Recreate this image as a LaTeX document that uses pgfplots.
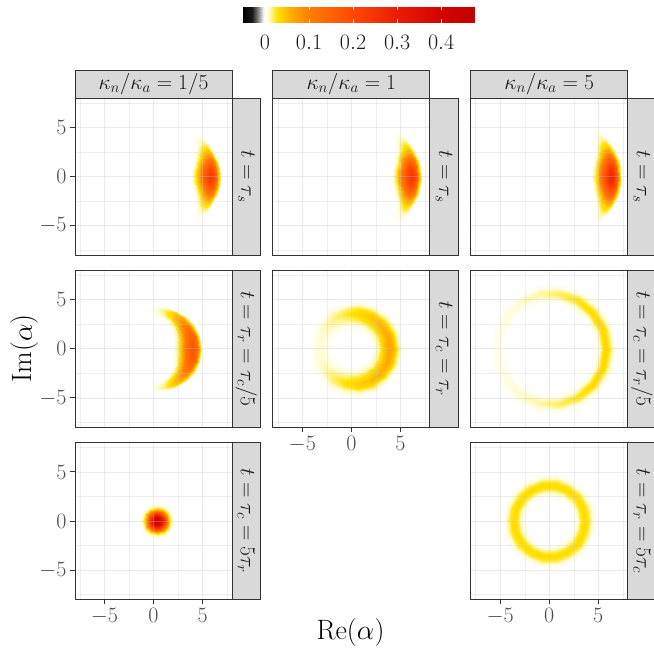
\documentclass[border=0pt]{standalone}
\usepackage{fix-cm}
\usepackage{pgfplots}
\usepackage{pgfplotstable}
\pgfplotsset{compat=1.18}

% Quasi-probability colour scale: black (negative) -> white (0) -> yellow -> orange -> dark red
\pgfplotsset{
  colormap={wigner}{rgb255(0pt)=(0,0,0); rgb255(207pt)=(25,25,25); rgb255(357pt)=(130,130,130);
    rgb255(467pt)=(235,235,235); rgb255(507pt)=(255,255,255); rgb255(567pt)=(255,252,215);
    rgb255(657pt)=(255,242,120); rgb255(777pt)=(255,226,0); rgb255(1107pt)=(255,172,0);
    rgb255(1507pt)=(255,125,0); rgb255(2507pt)=(255,72,0); rgb255(3507pt)=(235,28,0);
    rgb255(4507pt)=(212,2,0); rgb255(5277pt)=(195,0,0)},
}

% Phase-space densities on polar meshes: angle a (deg), radius r, value w
% kappa_n/kappa_a = 1/5, t = tau_s
\pgfplotstableread[row sep=\\]{a r w\\
-49 5.40 0\\-49 5.50 0\\-49 5.60 0\\-49 5.85 0\\-49 6.08 0\\-49 6.20 0\\-49 6.30 0\\-49 6.40 0\\-49 6.50 0\\
-42 5.22 0.0001\\-42 5.37 0.0002\\-42 5.53 0.0007\\-42 5.78 0.0018\\-42 6.05 0.0026\\-42 6.19 0.0024\\-42 6.32 0.0017\\-42 6.43 0.0006\\-42 6.55 0\\
-35 4.96 0.0002\\-35 5.16 0.0010\\-35 5.36 0.0029\\-35 5.66 0.0074\\-35 6.00 0.0106\\-35 6.17 0.0099\\-35 6.34 0.0069\\-35 6.48 0.0023\\-35 6.62 0.0001\\
-28 4.67 0.0006\\-28 4.91 0.0029\\-28 5.15 0.0087\\-28 5.52 0.0227\\-28 5.93 0.0324\\-28 6.13 0.0301\\-28 6.34 0.0211\\-28 6.51 0.0071\\-28 6.68 0.0003\\
-21 4.38 0.0016\\-21 4.66 0.0071\\-21 4.94 0.0214\\-21 5.38 0.0554\\-21 5.86 0.0792\\-21 6.10 0.0737\\-21 6.34 0.0515\\-21 6.54 0.0174\\-21 6.74 0.0008\\
-14 4.13 0.0029\\-14 4.45 0.0132\\-14 4.76 0.0395\\-14 5.26 0.1025\\-14 5.80 0.1464\\-14 6.07 0.1362\\-14 6.34 0.0952\\-14 6.57 0.0322\\-14 6.79 0.0015\\
-7 3.97 0.0042\\-7 4.30 0.0190\\-7 4.64 0.0570\\-7 5.18 0.1478\\-7 5.76 0.2112\\-7 6.05 0.1964\\-7 6.34 0.1373\\-7 6.58 0.0465\\-7 6.83 0.0021\\
0 3.90 0.0048\\0 4.25 0.0216\\0 4.60 0.0648\\0 5.15 0.1680\\0 5.75 0.2400\\0 6.05 0.2232\\0 6.35 0.1560\\0 6.60 0.0528\\0 6.85 0.0024\\
7 3.97 0.0042\\7 4.30 0.0190\\7 4.64 0.0570\\7 5.18 0.1478\\7 5.76 0.2112\\7 6.05 0.1964\\7 6.34 0.1373\\7 6.58 0.0465\\7 6.83 0.0021\\
14 4.13 0.0029\\14 4.45 0.0132\\14 4.76 0.0395\\14 5.26 0.1025\\14 5.80 0.1464\\14 6.07 0.1362\\14 6.34 0.0952\\14 6.57 0.0322\\14 6.79 0.0015\\
21 4.38 0.0016\\21 4.66 0.0071\\21 4.94 0.0214\\21 5.38 0.0554\\21 5.86 0.0792\\21 6.10 0.0737\\21 6.34 0.0515\\21 6.54 0.0174\\21 6.74 0.0008\\
28 4.67 0.0006\\28 4.91 0.0029\\28 5.15 0.0087\\28 5.52 0.0227\\28 5.93 0.0324\\28 6.13 0.0301\\28 6.34 0.0211\\28 6.51 0.0071\\28 6.68 0.0003\\
35 4.96 0.0002\\35 5.16 0.0010\\35 5.36 0.0029\\35 5.66 0.0074\\35 6.00 0.0106\\35 6.17 0.0099\\35 6.34 0.0069\\35 6.48 0.0023\\35 6.62 0.0001\\
42 5.22 0.0001\\42 5.37 0.0002\\42 5.53 0.0007\\42 5.78 0.0018\\42 6.05 0.0026\\42 6.19 0.0024\\42 6.32 0.0017\\42 6.43 0.0006\\42 6.55 0\\
49 5.40 0\\49 5.50 0\\49 5.60 0\\49 5.85 0\\49 6.08 0\\49 6.20 0\\49 6.30 0\\49 6.40 0\\49 6.50 0\\
}\tA

% kappa_n/kappa_a = 1, t = tau_s
\pgfplotstableread[row sep=\\]{a r w\\
-49 5.70 0\\-49 5.80 0\\-49 5.90 0\\-49 6.15 0\\-49 6.38 0\\-49 6.50 0\\-49 6.60 0\\-49 6.70 0\\-49 6.80 0\\
-42 5.52 0.0001\\-42 5.67 0.0003\\-42 5.83 0.0008\\-42 6.08 0.0020\\-42 6.35 0.0028\\-42 6.49 0.0026\\-42 6.62 0.0018\\-42 6.73 0.0006\\-42 6.85 0\\
-35 5.26 0.0002\\-35 5.46 0.0010\\-35 5.66 0.0030\\-35 5.96 0.0077\\-35 6.30 0.0110\\-35 6.47 0.0102\\-35 6.64 0.0072\\-35 6.78 0.0024\\-35 6.92 0.0001\\
-28 4.97 0.0007\\-28 5.21 0.0030\\-28 5.45 0.0091\\-28 5.82 0.0237\\-28 6.23 0.0338\\-28 6.43 0.0314\\-28 6.64 0.0220\\-28 6.81 0.0074\\-28 6.98 0.0003\\
-21 4.68 0.0017\\-21 4.96 0.0074\\-21 5.24 0.0223\\-21 5.68 0.0578\\-21 6.16 0.0825\\-21 6.40 0.0767\\-21 6.64 0.0536\\-21 6.84 0.0182\\-21 7.04 0.0008\\
-14 4.43 0.0031\\-14 4.75 0.0137\\-14 5.06 0.0412\\-14 5.56 0.1068\\-14 6.10 0.1525\\-14 6.37 0.1418\\-14 6.64 0.0991\\-14 6.87 0.0336\\-14 7.09 0.0015\\
-7 4.27 0.0044\\-7 4.60 0.0198\\-7 4.94 0.0594\\-7 5.48 0.1540\\-7 6.06 0.2200\\-7 6.35 0.2046\\-7 6.64 0.1430\\-7 6.88 0.0484\\-7 7.13 0.0022\\
0 4.20 0.0050\\0 4.55 0.0225\\0 4.90 0.0675\\0 5.45 0.1750\\0 6.05 0.2500\\0 6.35 0.2325\\0 6.65 0.1625\\0 6.90 0.0550\\0 7.15 0.0025\\
7 4.27 0.0044\\7 4.60 0.0198\\7 4.94 0.0594\\7 5.48 0.1540\\7 6.06 0.2200\\7 6.35 0.2046\\7 6.64 0.1430\\7 6.88 0.0484\\7 7.13 0.0022\\
14 4.43 0.0031\\14 4.75 0.0137\\14 5.06 0.0412\\14 5.56 0.1068\\14 6.10 0.1525\\14 6.37 0.1418\\14 6.64 0.0991\\14 6.87 0.0336\\14 7.09 0.0015\\
21 4.68 0.0017\\21 4.96 0.0074\\21 5.24 0.0223\\21 5.68 0.0578\\21 6.16 0.0825\\21 6.40 0.0767\\21 6.64 0.0536\\21 6.84 0.0182\\21 7.04 0.0008\\
28 4.97 0.0007\\28 5.21 0.0030\\28 5.45 0.0091\\28 5.82 0.0237\\28 6.23 0.0338\\28 6.43 0.0314\\28 6.64 0.0220\\28 6.81 0.0074\\28 6.98 0.0003\\
35 5.26 0.0002\\35 5.46 0.0010\\35 5.66 0.0030\\35 5.96 0.0077\\35 6.30 0.0110\\35 6.47 0.0102\\35 6.64 0.0072\\35 6.78 0.0024\\35 6.92 0.0001\\
42 5.52 0.0001\\42 5.67 0.0003\\42 5.83 0.0008\\42 6.08 0.0020\\42 6.35 0.0028\\42 6.49 0.0026\\42 6.62 0.0018\\42 6.73 0.0006\\42 6.85 0\\
49 5.70 0\\49 5.80 0\\49 5.90 0\\49 6.15 0\\49 6.38 0\\49 6.50 0\\49 6.60 0\\49 6.70 0\\49 6.80 0\\
}\tB

% kappa_n/kappa_a = 5, t = tau_s
\pgfplotstableread[row sep=\\]{a r w\\
-49 5.90 0\\-49 6.00 0\\-49 6.10 0\\-49 6.35 0\\-49 6.58 0\\-49 6.70 0\\-49 6.80 0\\-49 6.90 0\\-49 7.00 0\\
-42 5.72 0.0001\\-42 5.87 0.0003\\-42 6.03 0.0009\\-42 6.28 0.0022\\-42 6.55 0.0032\\-42 6.69 0.0030\\-42 6.82 0.0021\\-42 6.93 0.0007\\-42 7.05 0\\
-35 5.46 0.0003\\-35 5.66 0.0012\\-35 5.86 0.0035\\-35 6.16 0.0090\\-35 6.50 0.0128\\-35 6.67 0.0119\\-35 6.84 0.0083\\-35 6.98 0.0028\\-35 7.12 0.0001\\
-28 5.17 0.0008\\-28 5.41 0.0035\\-28 5.65 0.0106\\-28 6.02 0.0274\\-28 6.43 0.0392\\-28 6.63 0.0365\\-28 6.84 0.0255\\-28 7.01 0.0086\\-28 7.18 0.0004\\
-21 4.88 0.0019\\-21 5.16 0.0086\\-21 5.44 0.0258\\-21 5.88 0.0670\\-21 6.36 0.0957\\-21 6.60 0.0890\\-21 6.84 0.0622\\-21 7.04 0.0211\\-21 7.24 0.0010\\
-14 4.63 0.0035\\-14 4.95 0.0159\\-14 5.26 0.0478\\-14 5.76 0.1238\\-14 6.30 0.1769\\-14 6.57 0.1645\\-14 6.84 0.1150\\-14 7.07 0.0389\\-14 7.29 0.0018\\
-7 4.47 0.0051\\-7 4.80 0.0230\\-7 5.14 0.0689\\-7 5.68 0.1786\\-7 6.26 0.2552\\-7 6.55 0.2373\\-7 6.84 0.1659\\-7 7.08 0.0561\\-7 7.33 0.0026\\
0 4.40 0.0058\\0 4.75 0.0261\\0 5.10 0.0783\\0 5.65 0.2030\\0 6.25 0.2900\\0 6.55 0.2697\\0 6.85 0.1885\\0 7.10 0.0638\\0 7.35 0.0029\\
7 4.47 0.0051\\7 4.80 0.0230\\7 5.14 0.0689\\7 5.68 0.1786\\7 6.26 0.2552\\7 6.55 0.2373\\7 6.84 0.1659\\7 7.08 0.0561\\7 7.33 0.0026\\
14 4.63 0.0035\\14 4.95 0.0159\\14 5.26 0.0478\\14 5.76 0.1238\\14 6.30 0.1769\\14 6.57 0.1645\\14 6.84 0.1150\\14 7.07 0.0389\\14 7.29 0.0018\\
21 4.88 0.0019\\21 5.16 0.0086\\21 5.44 0.0258\\21 5.88 0.0670\\21 6.36 0.0957\\21 6.60 0.0890\\21 6.84 0.0622\\21 7.04 0.0211\\21 7.24 0.0010\\
28 5.17 0.0008\\28 5.41 0.0035\\28 5.65 0.0106\\28 6.02 0.0274\\28 6.43 0.0392\\28 6.63 0.0365\\28 6.84 0.0255\\28 7.01 0.0086\\28 7.18 0.0004\\
35 5.46 0.0003\\35 5.66 0.0012\\35 5.86 0.0035\\35 6.16 0.0090\\35 6.50 0.0128\\35 6.67 0.0119\\35 6.84 0.0083\\35 6.98 0.0028\\35 7.12 0.0001\\
42 5.72 0.0001\\42 5.87 0.0003\\42 6.03 0.0009\\42 6.28 0.0022\\42 6.55 0.0032\\42 6.69 0.0030\\42 6.82 0.0021\\42 6.93 0.0007\\42 7.05 0\\
49 5.90 0\\49 6.00 0\\49 6.10 0\\49 6.35 0\\49 6.58 0\\49 6.70 0\\49 6.80 0\\49 6.90 0\\49 7.00 0\\
}\tC

% kappa_n/kappa_a = 1/5, t = tau_r = tau_c/5
\pgfplotstableread[row sep=\\]{a r w\\
-120 3.35 0\\-120 3.45 0\\-120 3.56 0\\-120 3.72 0\\-120 3.90 0\\-120 3.98 0\\-120 4.06 0\\-120 4.13 0\\-120 4.20 0\\
-105 3.26 0\\-105 3.39 0\\-105 3.52 0\\-105 3.71 0\\-105 3.93 0\\-105 4.03 0\\-105 4.12 0\\-105 4.21 0\\-105 4.29 0\\
-90 3.19 0\\-90 3.34 0.0002\\-90 3.49 0.0007\\-90 3.72 0.0018\\-90 3.97 0.0025\\-90 4.08 0.0024\\-90 4.20 0.0016\\-90 4.29 0.0006\\-90 4.39 0\\
-75 3.07 0.0003\\-75 3.25 0.0014\\-75 3.42 0.0040\\-75 3.70 0.0106\\-75 4.00 0.0150\\-75 4.14 0.0140\\-75 4.27 0.0098\\-75 4.39 0.0033\\-75 4.50 0.0002\\
-60 2.91 0.0009\\-60 3.12 0.0041\\-60 3.33 0.0122\\-60 3.66 0.0315\\-60 4.02 0.0450\\-60 4.18 0.0419\\-60 4.34 0.0293\\-60 4.48 0.0099\\-60 4.61 0.0005\\
-45 2.69 0.0016\\-45 2.94 0.0073\\-45 3.19 0.0219\\-45 3.59 0.0567\\-45 4.02 0.0810\\-45 4.21 0.0753\\-45 4.41 0.0527\\-45 4.57 0.0178\\-45 4.73 0.0008\\
-30 2.43 0.0025\\-30 2.72 0.0113\\-30 3.02 0.0340\\-30 3.49 0.0882\\-30 4.00 0.1260\\-30 4.23 0.1172\\-30 4.46 0.0819\\-30 4.65 0.0277\\-30 4.84 0.0013\\
-15 2.21 0.0033\\-15 2.54 0.0149\\-15 2.88 0.0448\\-15 3.40 0.1162\\-15 3.97 0.1660\\-15 4.23 0.1544\\-15 4.48 0.1079\\-15 4.70 0.0365\\-15 4.91 0.0017\\
0 2.10 0.0036\\0 2.45 0.0162\\0 2.80 0.0486\\0 3.35 0.1260\\0 3.95 0.1800\\0 4.22 0.1674\\0 4.49 0.1170\\0 4.72 0.0396\\0 4.94 0.0018\\
15 2.21 0.0033\\15 2.54 0.0149\\15 2.88 0.0448\\15 3.40 0.1162\\15 3.97 0.1660\\15 4.23 0.1544\\15 4.48 0.1079\\15 4.70 0.0365\\15 4.91 0.0017\\
30 2.43 0.0025\\30 2.72 0.0113\\30 3.02 0.0340\\30 3.49 0.0882\\30 4.00 0.1260\\30 4.23 0.1172\\30 4.46 0.0819\\30 4.65 0.0277\\30 4.84 0.0013\\
45 2.69 0.0016\\45 2.94 0.0073\\45 3.19 0.0219\\45 3.59 0.0567\\45 4.02 0.0810\\45 4.21 0.0753\\45 4.41 0.0527\\45 4.57 0.0178\\45 4.73 0.0008\\
60 2.91 0.0009\\60 3.12 0.0041\\60 3.33 0.0122\\60 3.66 0.0315\\60 4.02 0.0450\\60 4.18 0.0419\\60 4.34 0.0293\\60 4.48 0.0099\\60 4.61 0.0005\\
75 3.07 0.0003\\75 3.25 0.0014\\75 3.42 0.0040\\75 3.70 0.0106\\75 4.00 0.0150\\75 4.14 0.0140\\75 4.27 0.0098\\75 4.39 0.0033\\75 4.50 0.0002\\
90 3.19 0\\90 3.34 0.0002\\90 3.49 0.0007\\90 3.72 0.0018\\90 3.97 0.0025\\90 4.08 0.0024\\90 4.20 0.0016\\90 4.29 0.0006\\90 4.39 0\\
105 3.26 0\\105 3.39 0\\105 3.52 0\\105 3.71 0\\105 3.93 0\\105 4.03 0\\105 4.12 0\\105 4.21 0\\105 4.29 0\\
120 3.35 0\\120 3.45 0\\120 3.56 0\\120 3.72 0\\120 3.90 0\\120 3.98 0\\120 4.06 0\\120 4.13 0\\120 4.20 0\\
}\tD

% kappa_n/kappa_a = 1, t = tau_c = tau_r
\pgfplotstableread[row sep=\\]{a r w\\
0 2.20 0.0014\\0 2.80 0.0126\\0 3.35 0.0455\\0 3.90 0.0700\\0 4.35 0.0525\\0 4.75 0.0154\\0 5.20 0.0014\\
20 2.18 0.0013\\20 2.78 0.0117\\20 3.33 0.0423\\20 3.88 0.0650\\20 4.33 0.0488\\20 4.73 0.0143\\20 5.18 0.0013\\
40 2.12 0.0011\\40 2.72 0.0101\\40 3.27 0.0364\\40 3.82 0.0560\\40 4.27 0.0420\\40 4.67 0.0123\\40 5.12 0.0011\\
60 2.05 0.0009\\60 2.65 0.0081\\60 3.20 0.0293\\60 3.75 0.0450\\60 4.20 0.0338\\60 4.60 0.0099\\60 5.05 0.0009\\
80 1.95 0.0007\\80 2.55 0.0061\\80 3.10 0.0221\\80 3.65 0.0340\\80 4.10 0.0255\\80 4.50 0.0075\\80 4.95 0.0007\\
100 1.85 0.0004\\100 2.45 0.0040\\100 3.00 0.0143\\100 3.55 0.0220\\100 4.00 0.0165\\100 4.40 0.0048\\100 4.85 0.0004\\
120 1.77 0.0003\\120 2.37 0.0025\\120 2.92 0.0091\\120 3.47 0.0140\\120 3.92 0.0105\\120 4.32 0.0031\\120 4.77 0.0003\\
140 1.68 0.0002\\140 2.28 0.0016\\140 2.83 0.0059\\140 3.38 0.0090\\140 3.83 0.0068\\140 4.23 0.0020\\140 4.68 0.0002\\
160 1.58 0.0001\\160 2.18 0.0012\\160 2.73 0.0042\\160 3.28 0.0065\\160 3.73 0.0049\\160 4.13 0.0014\\160 4.58 0.0001\\
180 1.52 0.0001\\180 2.12 0.0011\\180 2.67 0.0039\\180 3.22 0.0060\\180 3.67 0.0045\\180 4.07 0.0013\\180 4.52 0.0001\\
200 1.58 0.0001\\200 2.18 0.0013\\200 2.73 0.0046\\200 3.28 0.0070\\200 3.73 0.0053\\200 4.13 0.0015\\200 4.58 0.0001\\
220 1.68 0.0002\\220 2.28 0.0020\\220 2.83 0.0072\\220 3.38 0.0110\\220 3.83 0.0083\\220 4.23 0.0024\\220 4.68 0.0002\\
240 1.77 0.0004\\240 2.37 0.0034\\240 2.92 0.0124\\240 3.47 0.0190\\240 3.92 0.0143\\240 4.32 0.0042\\240 4.77 0.0004\\
260 1.85 0.0006\\260 2.45 0.0052\\260 3.00 0.0189\\260 3.55 0.0290\\260 4.00 0.0218\\260 4.40 0.0064\\260 4.85 0.0006\\
280 1.95 0.0008\\280 2.55 0.0074\\280 3.10 0.0267\\280 3.65 0.0410\\280 4.10 0.0308\\280 4.50 0.0090\\280 4.95 0.0008\\
300 2.05 0.0010\\300 2.65 0.0090\\300 3.20 0.0325\\300 3.75 0.0500\\300 4.20 0.0375\\300 4.60 0.0110\\300 5.05 0.0010\\
320 2.12 0.0012\\320 2.72 0.0106\\320 3.27 0.0384\\320 3.82 0.0590\\320 4.27 0.0443\\320 4.67 0.0130\\320 5.12 0.0012\\
340 2.18 0.0013\\340 2.78 0.0119\\340 3.33 0.0429\\340 3.88 0.0660\\340 4.33 0.0495\\340 4.73 0.0145\\340 5.18 0.0013\\
360 2.20 0.0014\\360 2.80 0.0126\\360 3.35 0.0455\\360 3.90 0.0700\\360 4.35 0.0525\\360 4.75 0.0154\\360 5.20 0.0014\\
}\tE

% kappa_n/kappa_a = 5, t = tau_c = tau_r/5
\pgfplotstableread[row sep=\\]{a r w\\
0 4.70 0.0004\\0 5.15 0.0072\\0 5.48 0.0259\\0 5.80 0.0360\\0 6.12 0.0259\\0 6.45 0.0072\\0 6.90 0.0004\\
20 4.68 0.0004\\20 5.13 0.0071\\20 5.46 0.0254\\20 5.78 0.0353\\20 6.10 0.0254\\20 6.43 0.0071\\20 6.88 0.0004\\
40 4.65 0.0003\\40 5.10 0.0065\\40 5.43 0.0233\\40 5.75 0.0324\\40 6.07 0.0233\\40 6.40 0.0065\\40 6.85 0.0003\\
60 4.62 0.0003\\60 5.07 0.0053\\60 5.40 0.0192\\60 5.72 0.0266\\60 6.04 0.0192\\60 6.37 0.0053\\60 6.82 0.0003\\
80 4.59 0.0002\\80 5.04 0.0036\\80 5.37 0.0130\\80 5.69 0.0180\\80 6.01 0.0130\\80 6.34 0.0036\\80 6.79 0.0002\\
100 4.54 0.0001\\100 4.99 0.0023\\100 5.32 0.0083\\100 5.64 0.0115\\100 5.96 0.0083\\100 6.29 0.0023\\100 6.74 0.0001\\
120 4.45 0.0001\\120 4.90 0.0015\\120 5.23 0.0055\\120 5.55 0.0076\\120 5.87 0.0055\\120 6.20 0.0015\\120 6.65 0.0001\\
140 4.35 0.0001\\140 4.80 0.0011\\140 5.13 0.0039\\140 5.45 0.0054\\140 5.77 0.0039\\140 6.10 0.0011\\140 6.55 0.0001\\
160 4.27 0\\160 4.72 0.0009\\160 5.05 0.0031\\160 5.37 0.0043\\160 5.69 0.0031\\160 6.02 0.0009\\160 6.47 0\\
180 4.23 0\\180 4.68 0.0007\\180 5.01 0.0026\\180 5.33 0.0036\\180 5.65 0.0026\\180 5.98 0.0007\\180 6.43 0\\
200 4.27 0\\200 4.72 0.0009\\200 5.05 0.0031\\200 5.37 0.0043\\200 5.69 0.0031\\200 6.02 0.0009\\200 6.47 0\\
220 4.35 0.0001\\220 4.80 0.0011\\220 5.13 0.0039\\220 5.45 0.0054\\220 5.77 0.0039\\220 6.10 0.0011\\220 6.55 0.0001\\
240 4.45 0.0001\\240 4.90 0.0015\\240 5.23 0.0055\\240 5.55 0.0076\\240 5.87 0.0055\\240 6.20 0.0015\\240 6.65 0.0001\\
260 4.54 0.0001\\260 4.99 0.0023\\260 5.32 0.0083\\260 5.64 0.0115\\260 5.96 0.0083\\260 6.29 0.0023\\260 6.74 0.0001\\
280 4.59 0.0002\\280 5.04 0.0036\\280 5.37 0.0130\\280 5.69 0.0180\\280 6.01 0.0130\\280 6.34 0.0036\\280 6.79 0.0002\\
300 4.62 0.0003\\300 5.07 0.0053\\300 5.40 0.0192\\300 5.72 0.0266\\300 6.04 0.0192\\300 6.37 0.0053\\300 6.82 0.0003\\
320 4.65 0.0003\\320 5.10 0.0065\\320 5.43 0.0233\\320 5.75 0.0324\\320 6.07 0.0233\\320 6.40 0.0065\\320 6.85 0.0003\\
340 4.68 0.0004\\340 5.13 0.0071\\340 5.46 0.0254\\340 5.78 0.0353\\340 6.10 0.0254\\340 6.43 0.0071\\340 6.88 0.0004\\
360 4.70 0.0004\\360 5.15 0.0072\\360 5.48 0.0259\\360 5.80 0.0360\\360 6.12 0.0259\\360 6.45 0.0072\\360 6.90 0.0004\\
}\tF

% kappa_n/kappa_a = 1/5, t = tau_c = 5 tau_r (centred at Re = 0.35)
\pgfplotstableread[row sep=\\]{a r w\\
0 0 0.44\\0 0.30 0.40\\0 0.60 0.30\\0 0.90 0.17\\0 1.15 0.07\\0 1.35 0.025\\0 1.55 0.008\\0 1.80 0.001\\
30 0 0.44\\30 0.30 0.40\\30 0.60 0.30\\30 0.90 0.17\\30 1.15 0.07\\30 1.35 0.025\\30 1.55 0.008\\30 1.80 0.001\\
60 0 0.44\\60 0.30 0.40\\60 0.60 0.30\\60 0.90 0.17\\60 1.15 0.07\\60 1.35 0.025\\60 1.55 0.008\\60 1.80 0.001\\
90 0 0.44\\90 0.30 0.40\\90 0.60 0.30\\90 0.90 0.17\\90 1.15 0.07\\90 1.35 0.025\\90 1.55 0.008\\90 1.80 0.001\\
120 0 0.44\\120 0.30 0.40\\120 0.60 0.30\\120 0.90 0.17\\120 1.15 0.07\\120 1.35 0.025\\120 1.55 0.008\\120 1.80 0.001\\
150 0 0.44\\150 0.30 0.40\\150 0.60 0.30\\150 0.90 0.17\\150 1.15 0.07\\150 1.35 0.025\\150 1.55 0.008\\150 1.80 0.001\\
180 0 0.44\\180 0.30 0.40\\180 0.60 0.30\\180 0.90 0.17\\180 1.15 0.07\\180 1.35 0.025\\180 1.55 0.008\\180 1.80 0.001\\
210 0 0.44\\210 0.30 0.40\\210 0.60 0.30\\210 0.90 0.17\\210 1.15 0.07\\210 1.35 0.025\\210 1.55 0.008\\210 1.80 0.001\\
240 0 0.44\\240 0.30 0.40\\240 0.60 0.30\\240 0.90 0.17\\240 1.15 0.07\\240 1.35 0.025\\240 1.55 0.008\\240 1.80 0.001\\
270 0 0.44\\270 0.30 0.40\\270 0.60 0.30\\270 0.90 0.17\\270 1.15 0.07\\270 1.35 0.025\\270 1.55 0.008\\270 1.80 0.001\\
300 0 0.44\\300 0.30 0.40\\300 0.60 0.30\\300 0.90 0.17\\300 1.15 0.07\\300 1.35 0.025\\300 1.55 0.008\\300 1.80 0.001\\
330 0 0.44\\330 0.30 0.40\\330 0.60 0.30\\330 0.90 0.17\\330 1.15 0.07\\330 1.35 0.025\\330 1.55 0.008\\330 1.80 0.001\\
360 0 0.44\\360 0.30 0.40\\360 0.60 0.30\\360 0.90 0.17\\360 1.15 0.07\\360 1.35 0.025\\360 1.55 0.008\\360 1.80 0.001\\
}\tG

% kappa_n/kappa_a = 5, t = tau_r = 5 tau_c
\pgfplotstableread[row sep=\\]{a r w\\
0 2.45 0.0003\\0 2.90 0.0064\\0 3.27 0.023\\0 3.65 0.032\\0 4.03 0.023\\0 4.40 0.0064\\0 4.85 0.0003\\
20 2.45 0.0003\\20 2.90 0.0064\\20 3.27 0.023\\20 3.65 0.032\\20 4.03 0.023\\20 4.40 0.0064\\20 4.85 0.0003\\
40 2.45 0.0003\\40 2.90 0.0064\\40 3.27 0.023\\40 3.65 0.032\\40 4.03 0.023\\40 4.40 0.0064\\40 4.85 0.0003\\
60 2.45 0.0003\\60 2.90 0.0064\\60 3.27 0.023\\60 3.65 0.032\\60 4.03 0.023\\60 4.40 0.0064\\60 4.85 0.0003\\
80 2.45 0.0003\\80 2.90 0.0064\\80 3.27 0.023\\80 3.65 0.032\\80 4.03 0.023\\80 4.40 0.0064\\80 4.85 0.0003\\
100 2.45 0.0003\\100 2.90 0.0064\\100 3.27 0.023\\100 3.65 0.032\\100 4.03 0.023\\100 4.40 0.0064\\100 4.85 0.0003\\
120 2.45 0.0003\\120 2.90 0.0064\\120 3.27 0.023\\120 3.65 0.032\\120 4.03 0.023\\120 4.40 0.0064\\120 4.85 0.0003\\
140 2.45 0.0003\\140 2.90 0.0064\\140 3.27 0.023\\140 3.65 0.032\\140 4.03 0.023\\140 4.40 0.0064\\140 4.85 0.0003\\
160 2.45 0.0003\\160 2.90 0.0064\\160 3.27 0.023\\160 3.65 0.032\\160 4.03 0.023\\160 4.40 0.0064\\160 4.85 0.0003\\
180 2.45 0.0003\\180 2.90 0.0064\\180 3.27 0.023\\180 3.65 0.032\\180 4.03 0.023\\180 4.40 0.0064\\180 4.85 0.0003\\
200 2.45 0.0003\\200 2.90 0.0064\\200 3.27 0.023\\200 3.65 0.032\\200 4.03 0.023\\200 4.40 0.0064\\200 4.85 0.0003\\
220 2.45 0.0003\\220 2.90 0.0064\\220 3.27 0.023\\220 3.65 0.032\\220 4.03 0.023\\220 4.40 0.0064\\220 4.85 0.0003\\
240 2.45 0.0003\\240 2.90 0.0064\\240 3.27 0.023\\240 3.65 0.032\\240 4.03 0.023\\240 4.40 0.0064\\240 4.85 0.0003\\
260 2.45 0.0003\\260 2.90 0.0064\\260 3.27 0.023\\260 3.65 0.032\\260 4.03 0.023\\260 4.40 0.0064\\260 4.85 0.0003\\
280 2.45 0.0003\\280 2.90 0.0064\\280 3.27 0.023\\280 3.65 0.032\\280 4.03 0.023\\280 4.40 0.0064\\280 4.85 0.0003\\
300 2.45 0.0003\\300 2.90 0.0064\\300 3.27 0.023\\300 3.65 0.032\\300 4.03 0.023\\300 4.40 0.0064\\300 4.85 0.0003\\
320 2.45 0.0003\\320 2.90 0.0064\\320 3.27 0.023\\320 3.65 0.032\\320 4.03 0.023\\320 4.40 0.0064\\320 4.85 0.0003\\
340 2.45 0.0003\\340 2.90 0.0064\\340 3.27 0.023\\340 3.65 0.032\\340 4.03 0.023\\340 4.40 0.0064\\340 4.85 0.0003\\
360 2.45 0.0003\\360 2.90 0.0064\\360 3.27 0.023\\360 3.65 0.032\\360 4.03 0.023\\360 4.40 0.0064\\360 4.85 0.0003\\
}\tH

\pgfplotsset{
  % density layer of a panel (drawn first, no decorations)
  field/.style={
    anchor=south west, scale only axis, width=157pt, height=157pt,
    view={0}{90}, hide axis,
    xmin=-8, xmax=8, ymin=-8, ymax=8, zmin=-0.1, zmax=0.5,
    colormap name=wigner, point meta min=-0.0507, point meta max=0.477,
  },
  % frame, grid and ticks of a panel (drawn on top)
  frame/.style={
    anchor=south west, scale only axis, width=157pt, height=157pt,
    xmin=-8, xmax=8, ymin=-8, ymax=8,
    xtick={-5,0,5}, ytick={-5,0,5},
    minor xtick={-7.5,-2.5,2.5,7.5}, minor ytick={-7.5,-2.5,2.5,7.5},
    grid=both,
    major grid style={line width=0.6pt, color=black!22, opacity=0.35},
    minor grid style={line width=0.35pt, color=black!22, opacity=0.3},
    axis line style={line width=0.9pt, color=black!80},
    tick style={line width=0.9pt, color=black!80},
    tick align=outside, tick pos=left, major tick length=5pt, minor tick length=0pt,
    ticklabel style={font=\fontsize{22}{26}\selectfont, text=black!70},
  },
  noxt/.style={xmajorticks=false},
  noyt/.style={ymajorticks=false},
  dens/.style={surf, shader=interp, mesh/cols=9, point meta=\thisrow{w}},
  table/polar/.style={x expr=\thisrow{r}*cos(\thisrow{a}), y expr=\thisrow{r}*sin(\thisrow{a}), z=w},
}

\begin{document}
\begin{tikzpicture}
\path[use as bounding box] (0pt,0pt) rectangle (653pt,655pt);

% ---- row 1: t = tau_s
\begin{axis}[field, at={(75pt,399.8pt)}]
  \addplot3[dens, mesh/rows=15] table[polar] {\tA};
\end{axis}
\begin{axis}[frame, noxt, at={(75pt,399.8pt)}]\end{axis}
\begin{axis}[field, at={(272.85pt,399.8pt)}]
  \addplot3[dens, mesh/rows=15] table[polar] {\tB};
\end{axis}
\begin{axis}[frame, noxt, noyt, at={(272.85pt,399.8pt)}]\end{axis}
\begin{axis}[field, at={(470.7pt,399.8pt)}]
  \addplot3[dens, mesh/rows=15] table[polar] {\tC};
\end{axis}
\begin{axis}[frame, noxt, noyt, at={(470.7pt,399.8pt)}]\end{axis}

% ---- row 2
\begin{axis}[field, at={(75pt,227.7pt)}]
  \addplot3[dens, mesh/rows=17] table[polar] {\tD};
\end{axis}
\begin{axis}[frame, noxt, at={(75pt,227.7pt)}]\end{axis}
\begin{axis}[field, at={(272.85pt,227.7pt)}]
  \addplot3[dens, mesh/cols=7, mesh/rows=19] table[polar] {\tE};
\end{axis}
\begin{axis}[frame, noyt, at={(272.85pt,227.7pt)}]\end{axis}
\begin{axis}[field, at={(470.7pt,227.7pt)}]
  \addplot3[dens, mesh/cols=7, mesh/rows=19] table[polar] {\tF};
\end{axis}
\begin{axis}[frame, noxt, noyt, at={(470.7pt,227.7pt)}]\end{axis}

% ---- row 3
\begin{axis}[field, at={(75pt,55.5pt)}]
  \addplot3[dens, mesh/cols=8, mesh/rows=13] table[x expr=\thisrow{r}*cos(\thisrow{a})+0.35, y expr=\thisrow{r}*sin(\thisrow{a}), z=w] {\tG};
\end{axis}
\begin{axis}[frame, at={(75pt,55.5pt)}]\end{axis}
\begin{axis}[field, at={(470.7pt,55.5pt)}]
  \addplot3[dens, mesh/cols=7, mesh/rows=19] table[polar] {\tH};
\end{axis}
\begin{axis}[frame, noyt, at={(470.7pt,55.5pt)}]\end{axis}

% ---- colour bar
\begin{axis}[anchor=south west, at={(242.7pt,632.3pt)}, scale only axis, width=232.3pt, height=16pt,
  view={0}{90}, xmin=-0.0507, xmax=0.477, ymin=0, ymax=1, zmin=-1, zmax=1,
  colormap name=wigner, point meta min=-0.0507, point meta max=0.477,
  axis line style={draw=none}, ytick=\empty, ztick=\empty,
  xtick={0,0.1,0.2,0.3,0.4}, xticklabels={$0$,$0.1$,$0.2$,$0.3$,$0.4$},
  tick align=inside, xtick pos=both, major tick length=3.5pt,
  tick style={draw=white, line width=0.6pt}, axis on top,
  ticklabel style={font=\fontsize{22}{26}\selectfont, text=black!90},
  xticklabel style={yshift=-9pt}]
  \addplot3[surf, shader=interp, mesh/rows=2, mesh/cols=14, point meta=x] coordinates {
    (-0.0507,0,0) (-0.03,0,0) (-0.015,0,0) (-0.004,0,0) (0,0,0) (0.006,0,0) (0.015,0,0)
    (0.027,0,0) (0.06,0,0) (0.1,0,0) (0.2,0,0) (0.3,0,0) (0.4,0,0) (0.477,0,0)
    (-0.0507,1,0) (-0.03,1,0) (-0.015,1,0) (-0.004,1,0) (0,1,0) (0.006,1,0) (0.015,1,0)
    (0.027,1,0) (0.06,1,0) (0.1,1,0) (0.2,1,0) (0.3,1,0) (0.4,1,0) (0.477,1,0)
  };
\end{axis}

% ---- facet strips
\begin{scope}[line width=0.9pt]
  \tikzset{strip/.style={fill=black!15, draw=black!80}, stext/.style={font=\fontsize{21.5}{24}\selectfont, text=black!90}}
  \draw[strip] (75pt,556.8pt) rectangle (232pt,585pt);
  \draw[strip] (272.85pt,556.8pt) rectangle (429.85pt,585pt);
  \draw[strip] (470.7pt,556.8pt) rectangle (627.7pt,585pt);
  \node[stext] at (153.5pt,570.9pt) {$\kappa_n/\kappa_a=1/5$};
  \node[stext] at (351.35pt,570.9pt) {$\kappa_n/\kappa_a=1$};
  \node[stext] at (549.2pt,570.9pt) {$\kappa_n/\kappa_a=5$};

  \draw[strip] (232pt,399.8pt) rectangle (260.5pt,556.8pt);
  \draw[strip] (429.85pt,399.8pt) rectangle (458.35pt,556.8pt);
  \draw[strip] (627.7pt,399.8pt) rectangle (656.2pt,556.8pt);
  \node[stext, rotate=-90] at (246.25pt,478.3pt) {$t=\tau_s$};
  \node[stext, rotate=-90] at (444.1pt,478.3pt) {$t=\tau_s$};
  \node[stext, rotate=-90] at (641.95pt,478.3pt) {$t=\tau_s$};

  \draw[strip] (232pt,227.7pt) rectangle (260.5pt,384.7pt);
  \draw[strip] (429.85pt,227.7pt) rectangle (458.35pt,384.7pt);
  \draw[strip] (627.7pt,227.7pt) rectangle (656.2pt,384.7pt);
  \node[stext, rotate=-90] at (246.25pt,306.2pt) {$t=\tau_r=\tau_c/5$};
  \node[stext, rotate=-90] at (444.1pt,306.2pt) {$t=\tau_c=\tau_r$};
  \node[stext, rotate=-90] at (641.95pt,306.2pt) {$t=\tau_c=\tau_r/5$};

  \draw[strip] (232pt,55.5pt) rectangle (260.5pt,212.5pt);
  \draw[strip] (627.7pt,55.5pt) rectangle (656.2pt,212.5pt);
  \node[stext, rotate=-90] at (246.25pt,134pt) {$t=\tau_c=5\tau_r$};
  \node[stext, rotate=-90] at (641.95pt,134pt) {$t=\tau_r=5\tau_c$};
\end{scope}

% ---- axis titles
\node[font=\fontsize{28}{32}\selectfont] at (350.5pt,22pt) {Re($\alpha$)};
\node[font=\fontsize{28}{32}\selectfont, rotate=90] at (25pt,306.5pt) {Im($\alpha$)};
\end{tikzpicture}
\end{document}
